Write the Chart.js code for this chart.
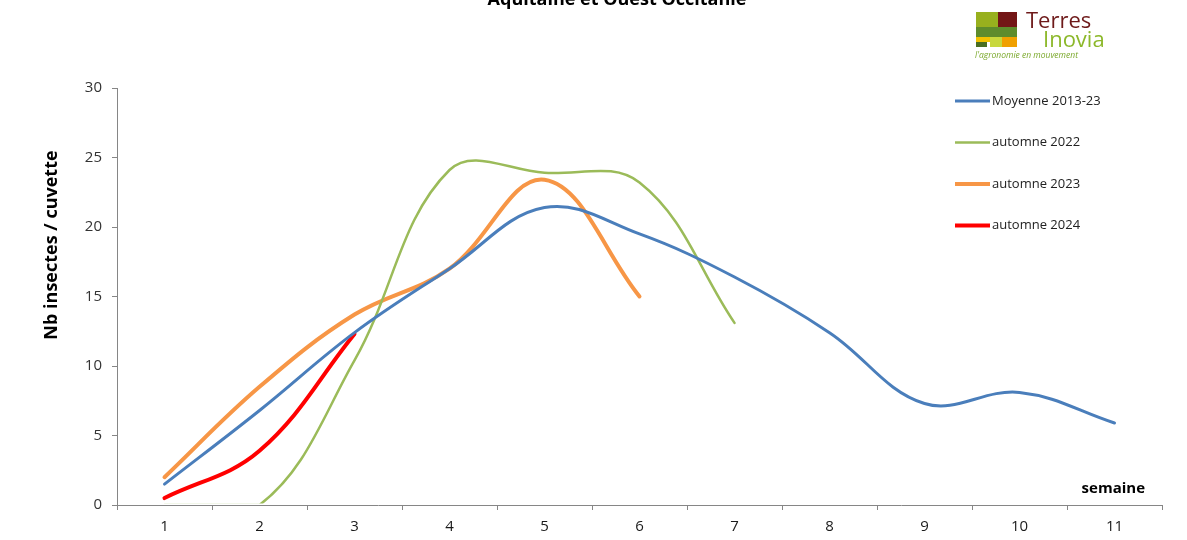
<!DOCTYPE html>
<html>
<head>
<meta charset="utf-8">
<script src="https://cdn.jsdelivr.net/npm/chart.js@4"></script>
<style>
  body { margin: 0; background: #fff; }
  canvas { display: block; }
</style>
</head>
<body>
<canvas id="chart" width="1187" height="540"></canvas>
<script>
// weeks and counts
const weeks = ['1', '2', '3', '4', '5', '6', '7', '8', '9', '10', '11'];
const moyenne = [1.5, 6.8, 12.4, 17.0, 21.4, 19.5, 16.4, 12.4, 7.3, 8.1, 5.9];
const automne2022 = [0, 0, 10.4, 24.1, 23.9, 23.2, 13.1, null, null, null, null];
const automne2023 = [2.0, 8.5, 13.7, 17.0, 23.4, 15.0, null, null, null, null, null];
const automne2024 = [0.5, 3.9, 12.3, null, null, null, null, null, null, null, null];
const yTicks = [0, 5, 10, 15, 20, 25, 30];

const seriesNames = ['Moyenne 2013-23', 'automne 2022', 'automne 2023', 'automne 2024'];
const seriesColors = ['#4a7ebb', '#9bbb59', '#f79646', '#ff0000'];
const seriesWidths = [3, 2.5, 4, 4];

const font = '"Open Sans", "Liberation Sans", sans-serif';

const extras = {
  id: 'extras',
  afterDraw(chart) {
    const ctx = chart.ctx;
    ctx.save();

    // title (cut at the top edge)
    ctx.fillStyle = '#000';
    ctx.font = 'bold 18px ' + font;
    ctx.textAlign = 'center';
    ctx.textBaseline = 'alphabetic';
    ctx.fillText('Aquitaine et Ouest Occitanie', 617, 5);

    // y title
    ctx.save();
    ctx.translate(52, 245);
    ctx.rotate(-Math.PI / 2);
    ctx.font = 'bold 18px ' + font;
    ctx.textBaseline = 'middle';
    ctx.fillText('Nb insectes / cuvette', 0, 0);
    ctx.restore();

    // x title
    ctx.font = 'bold 15px ' + font;
    ctx.textAlign = 'right';
    ctx.textBaseline = 'middle';
    ctx.fillText('semaine', 1145, 489);

    // legend
    ctx.textAlign = 'left';
    ctx.font = '13px ' + font;
    seriesNames.forEach((name, i) => {
      const y = 101 + i * 41.5;
      ctx.strokeStyle = seriesColors[i];
      ctx.lineWidth = seriesWidths[i];
      ctx.beginPath();
      ctx.moveTo(955, y);
      ctx.lineTo(990, y);
      ctx.stroke();
      ctx.fillStyle = '#222';
      ctx.fillText(name, 992, y);
    });

    // logo
    ctx.fillStyle = '#98b01e'; ctx.fillRect(976, 12, 22, 15);
    ctx.fillStyle = '#731616'; ctx.fillRect(998, 12, 19, 15);
    ctx.fillStyle = '#5e8c2c'; ctx.fillRect(976, 27, 41, 10);
    ctx.fillStyle = '#f2c200'; ctx.fillRect(976, 37, 14, 5);
    ctx.fillStyle = '#4a6e22'; ctx.fillRect(976, 42, 11, 5);
    ctx.fillStyle = '#c8d83c'; ctx.fillRect(990, 37, 12, 10);
    ctx.fillStyle = '#f0a000'; ctx.fillRect(1002, 37, 15, 10);
    ctx.textBaseline = 'alphabetic';
    ctx.fillStyle = '#6e1a1a';
    ctx.font = '22px ' + font;
    ctx.fillText('Terres', 1026, 28);
    ctx.fillStyle = '#8cb82a';
    ctx.fillText('Inovia', 1043, 47);
    ctx.font = 'italic 8.5px ' + font;
    ctx.fillStyle = '#7aa82a';
    ctx.fillText("l'agronomie en mouvement", 975, 58);

    ctx.restore();
  }
};

const data = {
  labels: weeks,
  datasets: [moyenne, automne2022, automne2023, automne2024].map((values, i) => ({
    label: seriesNames[i],
    data: values,
    borderColor: seriesColors[i],
    backgroundColor: seriesColors[i],
    borderWidth: seriesWidths[i],
    borderCapStyle: 'round',
    pointRadius: 0,
    tension: 0.38,
    fill: false,
    // the 2022 line sits on the zero line at the start: keep it under the axis
    clip: i === 1 ? { left: 5, top: 5, right: 5, bottom: -1.5 } : 5
  }))
};

const config = {
  type: 'line',
  data: data,
  options: {
    responsive: false,
    animation: false,
    layout: { padding: { top: 88, right: 25, left: 0, bottom: 0 } },
    plugins: {
      legend: { display: false },
      tooltip: { enabled: false }
    },
    scales: {
      x: {
        offset: true,
        afterFit: s => { s.height = 35; },
        border: { color: '#868686', width: 1 },
        grid: { offset: true, drawOnChartArea: false, drawTicks: true, tickLength: 5, color: '#868686' },
        ticks: { color: '#1a1a1a', font: { family: font, size: 15 }, padding: 8, maxRotation: 0 }
      },
      y: {
        min: 0,
        max: 30,
        afterFit: s => { s.width = 117; },
        afterBuildTicks: s => { s.ticks = yTicks.map(v => ({ value: v })); },
        border: { color: '#868686', width: 1 },
        grid: { drawOnChartArea: false, drawTicks: true, tickLength: 5, color: '#868686' },
        ticks: { color: '#333', font: { family: font, size: 15 }, padding: 10 }
      }
    }
  },
  plugins: [extras]
};

const myChart = new Chart(document.getElementById('chart'), config);
</script>
</body>
</html>
